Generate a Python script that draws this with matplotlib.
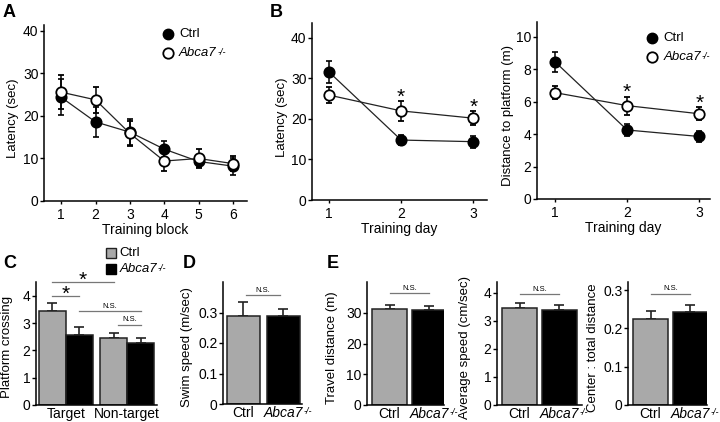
import matplotlib
matplotlib.use("Agg")
import matplotlib.pyplot as plt
import numpy as np

plt.rcParams['font.family'] = ['Liberation Sans', 'DejaVu Sans']

KO = "Abca7"
KO_SUP = "-/-"

# ---------------- data ----------------
# A: latency per training block
blocks = [1, 2, 3, 4, 5, 6]
a_ctrl = [24.4, 18.6, 16.2, 12.2, 9.3, 8.2]
a_ctrl_err = [4.2, 3.6, 3.0, 2.0, 1.3, 2.0]
a_ko = [25.6, 23.8, 15.9, 9.4, 10.0, 8.8]
a_ko_err = [4.0, 3.0, 3.0, 2.3, 2.2, 1.8]

# B: latency per training day
days = [1, 2, 3]
b_ctrl = [31.6, 14.8, 14.4]
b_ctrl_err = [2.7, 1.3, 1.5]
b_ko = [25.9, 22.0, 20.2]
b_ko_err = [1.9, 2.4, 1.7]
b_sig = ["", "*", "*"]

# B right: distance to platform
d_ctrl = [8.45, 4.25, 3.85]
d_ctrl_err = [0.6, 0.35, 0.33]
d_ko = [6.55, 5.75, 5.25]
d_ko_err = [0.42, 0.55, 0.4]

# C: platform crossing
c_groups = ["Target", "Non-target"]
c_ctrl = [3.44, 2.44]
c_ctrl_err = [0.29, 0.2]
c_ko = [2.56, 2.28]
c_ko_err = [0.3, 0.16]

# D: swim speed
d_labels = ["Ctrl", KO]
swim = [0.288, 0.290]
swim_err = [0.045, 0.023]

# E: open field
travel = [31.3, 30.8]
travel_err = [1.2, 1.5]
avg_speed = [3.45, 3.38]
avg_speed_err = [0.18, 0.19]
center_ratio = [0.225, 0.243]
center_ratio_err = [0.021, 0.017]

GRAY = '#a9a9a9'
W, H = 720, 422
fig = plt.figure(figsize=(7.2, 4.22), dpi=100)
sup_targets = []   # text objects needing a "-/-" superscript


def ax_px(l, t, r, b):
    return fig.add_axes([l / W, 1 - b / H, (r - l) / W, (b - t) / H])


def style(ax, xtick_len=2, xpad=3):
    for s in ['top', 'right']:
        ax.spines[s].set_visible(False)
    for s in ['left', 'bottom']:
        ax.spines[s].set_linewidth(1.1)
    ax.tick_params(axis='y', direction='out', length=3, width=1, labelsize=10, pad=1)
    ax.tick_params(axis='x', direction='out', length=xtick_len, width=1, labelsize=10, pad=xpad)
    ax.patch.set_visible(False)


def ylab(ax, text, off_px, axis_w, fs=9.5):
    ax.set_ylabel(text, fontsize=fs)
    ax.yaxis.label.set_va('center')
    ax.yaxis.set_label_coords(-off_px / axis_w, 0.47)


def lineplot(ax, x, ctrl, ce, ko, ke):
    ax.errorbar(x, ctrl, yerr=ce, color='#222222', lw=0.9, marker='o', ms=7.5,
                mfc='black', mec='black', mew=1.2, capsize=2.5, elinewidth=1.1,
                capthick=1.1, ecolor='black', zorder=3)
    ax.errorbar(x, ko, yerr=ke, color='#222222', lw=0.9, marker='o', ms=7.5,
                mfc='white', mec='black', mew=1.3, capsize=2.5, elinewidth=1.1,
                capthick=1.1, ecolor='black', zorder=4)


def ko_text(ax, x, y):
    t = ax.text(x, y, KO, transform=ax.transAxes, fontsize=9.5, va='center', fontstyle='italic')
    sup_targets.append(t)


def legend_pts(ax, xm, xt, y1, y2):
    ax.plot([xm], [y1], transform=ax.transAxes, marker='o', ms=7.5, mfc='black', mec='black', clip_on=False)
    ax.plot([xm], [y2], transform=ax.transAxes, marker='o', ms=7.5, mfc='white', mec='black', mew=1.3, clip_on=False)
    ax.text(xt, y1, "Ctrl", transform=ax.transAxes, fontsize=9.5, va='center')
    ko_text(ax, xt, y2)


def stars(ax, x, y, e, sig, dy):
    for xi, yi, ei, s in zip(x, y, e, sig):
        if s:
            ax.text(xi, yi + ei + dy, s, ha='center', va='bottom', fontsize=15)


# ---------- A ----------
axA = ax_px(44, 25, 247, 201)
style(axA)
lineplot(axA, blocks, a_ctrl, a_ctrl_err, a_ko, a_ko_err)
axA.set_xlim(0.5, 6.41)
axA.set_ylim(0, 41.4)
axA.set_yticks([0, 10, 20, 30, 40])
axA.set_xticks(blocks)
axA.set_xlabel("Training block", fontsize=10, labelpad=1)
ylab(axA, "Latency (sec)", 31, 203)
legend_pts(axA, 0.61, 0.665, 0.95, 0.84)

# ---------- B left ----------
axB = ax_px(312, 23, 487, 200)
style(axB)
lineplot(axB, days, b_ctrl, b_ctrl_err, b_ko, b_ko_err)
axB.set_xlim(0.764, 3.19)
axB.set_ylim(0, 43.7)
axB.set_yticks([0, 10, 20, 30, 40])
axB.set_xticks(days)
axB.set_xlabel("Training day", fontsize=10, labelpad=1)
ylab(axB, "Latency (sec)", 30, 175)
stars(axB, days, b_ko, b_ko_err, b_sig, -1.3)

# ---------- B right ----------
axB2 = ax_px(537, 22, 710, 199)
style(axB2)
lineplot(axB2, days, d_ctrl, d_ctrl_err, d_ko, d_ko_err)
axB2.set_xlim(0.75, 3.15)
axB2.set_ylim(0, 10.9)
axB2.set_yticks([0, 2, 4, 6, 8, 10])
axB2.set_xticks(days)
axB2.set_xlabel("Training day", fontsize=10, labelpad=1)
ylab(axB2, "Distance to platform (m)", 29, 173)
stars(axB2, days, d_ko, d_ko_err, b_sig, -0.33)
legend_pts(axB2, 0.665, 0.73, 0.91, 0.80)


def bars(ax, centers, vals, errs, colors):
    ax.bar(centers, vals, width=1.0, color=colors, edgecolor='#222222', linewidth=1.1, zorder=2)
    ax.errorbar(centers, vals, yerr=[np.zeros(len(vals)), errs], fmt='none', ecolor='#222222',
                elinewidth=1.2, capsize=3.5, capthick=1.2, zorder=1)


def sigline(ax, x0, x1, y, text, fs=5.5, dy=0.0):
    ax.plot([x0, x1], [y, y], color='#777777', lw=0.9, clip_on=False)
    if text == '*':
        ax.text((x0 + x1) / 2, y + dy, text, ha='center', va='bottom', fontsize=15, clip_on=False)
    else:
        ax.text((x0 + x1) / 2, y + dy, text, ha='center', va='bottom', fontsize=fs, clip_on=False)


def ctrl_ko_ticks(ax, centers):
    ax.set_xticks(centers)
    ax.set_xticklabels(d_labels)
    lab = ax.get_xticklabels()[1]
    lab.set_fontstyle('italic')
    sup_targets.append(lab)


# ---------- C ----------
axC = ax_px(36, 282, 157, 405)
style(axC, xtick_len=0, xpad=1.5)
gap = 2.26
gc = np.arange(len(c_groups)) * gap
bars(axC, gc - 0.5, c_ctrl, c_ctrl_err, GRAY)
bars(axC, gc + 0.5, c_ko, c_ko_err, 'black')
axC.set_xlim(-1.11, 3.37)
axC.set_ylim(0, 4.51)
axC.set_yticks([0, 1, 2, 3, 4])
axC.set_xticks(gc)
axC.set_xticklabels(c_groups)
ylab(axC, "Platform crossing", 29, 121)
sigline(axC, gc[0] - 0.5, gc[1] - 0.5, 4.5, '*', dy=-0.28)
sigline(axC, gc[0] - 0.5, gc[0] + 0.5, 4.0, '*', dy=-0.28)
sigline(axC, gc[0] + 0.5, gc[1] + 0.5, 3.45, 'N.S.', dy=0.05)
sigline(axC, gc[1] - 0.33, gc[1] + 0.5, 2.95, 'N.S.', dy=0.05)
axC.plot([0.62], [1.235], transform=axC.transAxes, marker='s', ms=7.5, mfc=GRAY, mec='#222222', mew=1, clip_on=False)
axC.plot([0.62], [1.105], transform=axC.transAxes, marker='s', ms=7.5, mfc='black', mec='black', clip_on=False)
axC.text(0.69, 1.235, "Ctrl", transform=axC.transAxes, fontsize=9.5, va='center')
ko_text(axC, 0.69, 1.105)

# ---------- D ----------
axD = ax_px(223, 282, 302, 404)
style(axD, xtick_len=0, xpad=1.5)
dc = np.arange(2) * 1.21
bars(axD, dc, swim, swim_err, [GRAY, 'black'])
axD.set_xlim(-0.62, 1.77)
axD.set_ylim(0, 0.4)
axD.set_yticks([0, 0.1, 0.2, 0.3])
axD.set_yticklabels(["0", "0.1", "0.2", "0.3"])
ctrl_ko_ticks(axD, dc)
ylab(axD, "Swim speed (m/sec)", 36, 79)
sigline(axD, dc[0] + 0.08, dc[1] - 0.1, 0.357, 'N.S.', dy=0.004)

# ---------- E ----------
e_specs = [
    ((367, 282, 444, 405), travel, travel_err, (0, 40), [0, 10, 20, 30], ["0", "10", "20", "30"],
     "Travel distance (m)", 35, 36.3, 0.5),
    ((497, 282, 582, 405), avg_speed, avg_speed_err, (0, 4.39), [0, 1, 2, 3, 4], ["0", "1", "2", "3", "4"],
     "Average speed (cm/sec)", 32, 3.96, 0.05),
    ((628, 282, 707, 405), center_ratio, center_ratio_err, (0, 0.321), [0, 0.1, 0.2, 0.3],
     ["0", "0.1", "0.2", "0.3"], "Center : total distance", 35, 0.29, 0.004),
]
for (box, vals, errs, ylim, yt, ytl, lab, off, sy, sdy) in e_specs:
    l, t, r, b = box
    ax = ax_px(l, t, r, b)
    style(ax, xtick_len=0, xpad=1.5)
    bw = 35.0
    cc = np.arange(2) * 1.13
    bars(ax, cc, vals, errs, [GRAY, 'black'])
    ax.set_xlim(-0.5 - 5 / bw, -0.5 - 5 / bw + (r - l) / bw)
    ax.set_ylim(*ylim)
    ax.set_yticks(yt)
    ax.set_yticklabels(ytl)
    ctrl_ko_ticks(ax, cc)
    ylab(ax, lab, off, r - l)
    sigline(ax, cc[0], cc[1], sy, 'N.S.', dy=sdy)

# panel letters
for letter, x, y in [("A", 3, 17), ("B", 270, 17), ("C", 3, 268), ("D", 183, 268), ("E", 327, 268)]:
    fig.text(x / W, 1 - y / H, letter, fontsize=13, fontweight='bold', va='baseline', ha='left')

# superscripts "-/-" after each "Abca7"
fig.canvas.draw()
renderer = fig.canvas.get_renderer()
for t in sup_targets:
    bb = t.get_window_extent(renderer)
    fig.text((bb.x1 + 0.5) / W, (bb.y1 - 0.5) / H, KO_SUP, fontsize=6.5, fontstyle='italic',
             ha='left', va='top')

fig.savefig("out.png", dpi=100)
